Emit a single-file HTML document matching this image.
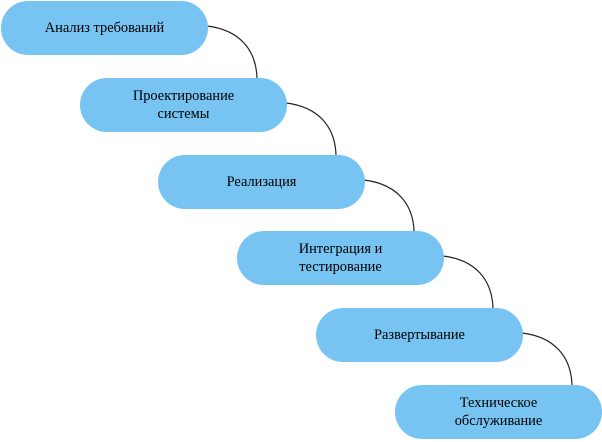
<!DOCTYPE html><html><head><style>
body{margin:0;width:602px;height:442px;background:#fff;position:relative;overflow:hidden;font-family:"Liberation Serif",serif}
.b{position:absolute;width:207px;height:54px;border-radius:27px;background:#77c4f3;display:flex;align-items:center;justify-content:center;text-align:center;font-size:14.4px;line-height:18px;color:#000}
svg{position:absolute;left:0;top:0}
</style></head><body>
<svg width="602" height="442"><g fill="none" stroke="#222" stroke-width="1.2">
<path d="M207,26 C240,30 256,50 257,78"/>
<path d="M286,103 C319,107 335,127 336,155"/>
<path d="M364,180 C397,184 413,204 414,231"/>
<path d="M443,256 C476,260 492,280 493,308"/>
<path d="M522,333 C555,337 571,357 572,385"/>
</g></svg>
<div class="b" style="left:1px;top:1px">Анализ требований</div>
<div class="b" style="left:80px;top:78px">Проектирование<br>системы</div>
<div class="b" style="left:158px;top:155px">Реализация</div>
<div class="b" style="left:237px;top:231px">Интеграция и<br>тестирование</div>
<div class="b" style="left:316px;top:308px">Развертывание</div>
<div class="b" style="left:395px;top:385px">Техническое<br>обслуживание</div>
</body></html>
